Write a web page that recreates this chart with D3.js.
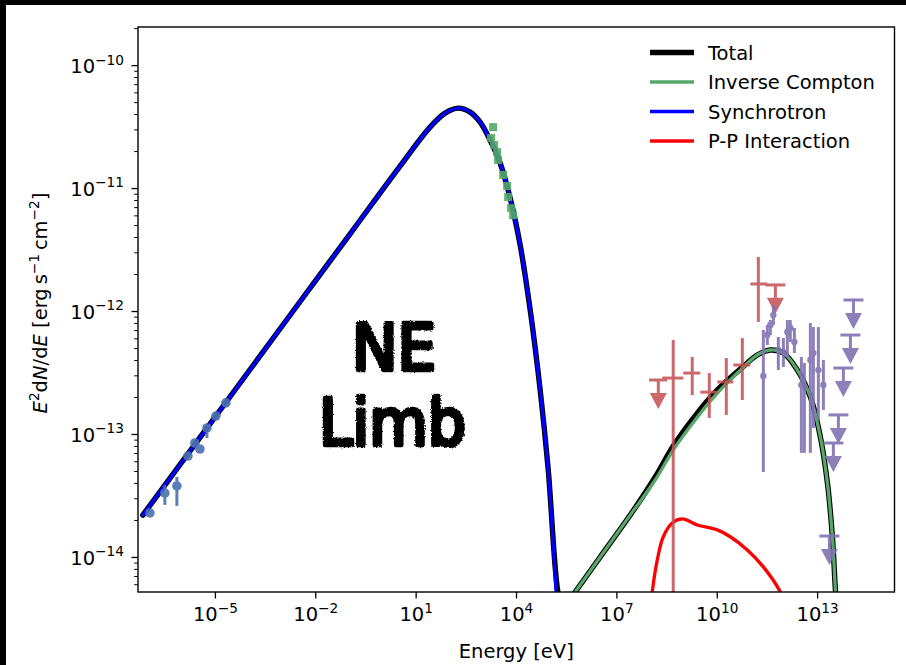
<!DOCTYPE html>
<html>
<head>
<meta charset="utf-8">
<script src="https://cdn.jsdelivr.net/npm/d3@7/dist/d3.min.js"></script>
<style>
  html, body { margin: 0; padding: 0; background: #000; }
  svg { display: block; }
</style>
</head>
<body>
<svg id="chart" width="906" height="665"></svg>
<script>
// Energies in eV, fluxes as E^2 dN/dE in erg s^-1 cm^-2

// Synchrotron model
const syncE = [7.0e-8, 3.56e-6, 1.11e-4, 3.49e-3, 0.109, 3.42, 27.0, 75.9, 186, 425, 845, 1683, 3350, 6670, 1.33e4, 2.65e4, 5.27e4, 9.14e4, 1.58e5, 2.24e5];
const syncF = [2.19e-14, 9.33e-14, 3.33e-13, 1.19e-12, 4.23e-12, 1.51e-11, 3.13e-11, 4.07e-11, 4.47e-11, 4.15e-11, 3.44e-11, 2.45e-11, 1.60e-11, 8.30e-12, 3.44e-12, 1.02e-12, 2.28e-13, 5.09e-14, 5.19e-15, 1.0e-15];

// Inverse Compton model
const icE = [3.16e5, 5.87e5, 3.29e6, 2.59e7, 1.45e8, 5.01e8, 2.62e9, 1.04e10, 5.06e10, 1.63e11, 4.0e11, 9.8e11, 2.57e12, 6.30e12, 1.25e13, 2.03e13, 2.86e13, 3.52e13, 4.04e13];
const icF = [4.07e-15, 5.19e-15, 1.0e-14, 2.19e-14, 4.23e-14, 7.41e-14, 1.37e-13, 2.15e-13, 3.31e-13, 4.39e-13, 4.82e-13, 4.56e-13, 3.31e-13, 2.0e-13, 9.46e-14, 4.0e-14, 1.46e-14, 5.4e-15, 3.1e-15];

// Proton-proton (pion decay) model
const ppE = [1.05e8, 1.18e8, 1.67e8, 2.52e8, 4.68e8, 9.33e8, 2.62e9, 1.04e10, 2.54e10, 8.2e10, 2.47e11, 7.96e11, 1.12e12];
const ppF = [3.7e-15, 5.19e-15, 9.46e-15, 1.46e-14, 1.89e-14, 2.04e-14, 1.82e-14, 1.66e-14, 1.46e-14, 1.14e-14, 8.3e-15, 5.19e-15, 4.1e-15];

// Total model
const totE = [7.0e-8, 3.56e-6, 1.11e-4, 3.49e-3, 0.109, 3.42, 27.0, 75.9, 186, 425, 845, 1683, 3350, 6670, 1.33e4, 2.65e4, 5.27e4, 9.14e4, 1.78e5, 2.5e5, 3.16e5, 5.87e5, 3.29e6, 2.59e7, 1.45e8, 5.01e8, 2.62e9, 1.04e10, 5.06e10, 1.63e11, 4.0e11, 9.8e11, 2.57e12, 6.30e12, 1.25e13, 2.03e13, 2.86e13, 3.52e13, 4.04e13];
const totF = [2.19e-14, 9.33e-14, 3.33e-13, 1.19e-12, 4.23e-12, 1.51e-11, 3.13e-11, 4.07e-11, 4.47e-11, 4.15e-11, 3.44e-11, 2.45e-11, 1.60e-11, 8.30e-12, 3.44e-12, 1.02e-12, 2.28e-13, 5.19e-14, 5.19e-15, 3.6e-15, 4.1e-15, 5.19e-15, 1.0e-14, 2.19e-14, 4.47e-14, 7.98e-14, 1.48e-13, 2.28e-13, 3.37e-13, 4.39e-13, 4.82e-13, 4.56e-13, 3.31e-13, 2.0e-13, 9.46e-14, 4.0e-14, 1.46e-14, 5.4e-15, 3.1e-15];

// Radio measurements
const radioE  = [1.14e-7, 3.19e-7, 7.29e-7, 1.56e-6, 2.52e-6, 3.56e-6, 5.77e-6, 1.07e-5, 2.13e-5];
const radioF  = [2.28e-14, 3.31e-14, 3.78e-14, 6.62e-14, 8.45e-14, 7.55e-14, 1.12e-13, 1.40e-13, 1.79e-13];
const radioLo = [2.15e-14, 2.65e-14, 2.60e-14, 6.2e-14, 7.9e-14, 7.0e-14, 9.27e-14, 1.32e-13, 1.70e-13];
const radioHi = [2.40e-14, 3.85e-14, 4.47e-14, 7.0e-14, 9.0e-14, 8.0e-14, 1.18e-13, 1.48e-13, 1.88e-13];

// X-ray measurements
const xrayE = [2.07e3, 1.80e3, 2.22e3, 2.73e3, 2.92e3, 4.12e3, 5.43e3, 5.82e3, 7.16e3, 8.20e3];
const xrayF = [3.13e-11, 2.55e-11, 2.24e-11, 1.96e-11, 1.69e-11, 1.28e-11, 1.04e-11, 8.45e-12, 6.87e-12, 6.03e-12];

// GeV measurements (bins with energy ranges)
const gevE   = [5.0e8, 1.85e9, 5.98e9, 1.93e10, 5.81e10, 1.75e11];
const gevF   = [2.85e-13, 3.13e-13, 2.19e-13, 2.65e-13, 3.64e-13, 1.66e-12];
const gevLo  = [1e-16, 2.07e-13, 1.35e-13, 1.43e-13, 1.89e-13, 8.15e-13];
const gevHi  = [5.81e-13, 4.23e-13, 3.13e-13, 4.15e-13, 6.03e-13, 2.75e-12];
const gevEmin = [2.35e8, 1.0e9, 3.22e9, 1.04e10, 3.13e10, 1.01e11];
const gevEmax = [1.0e9, 3.22e9, 1.04e10, 3.13e10, 1.01e11, 3.25e11];
// GeV upper limits
const gevUlE    = [1.79e8, 5.65e11];
const gevUlF    = [2.75e-13, 1.63e-12];
const gevUlEnd  = [2.15e-13, 1.28e-12];
const gevUlEmin = [9.5e7, 2.83e11];
const gevUlEmax = [3.3e8, 1.12e12];

// TeV measurements
const tevE  = [2.47e11, 3.25e11, 4.0e11, 4.92e11, 6.94e11, 9.8e11, 1.29e12, 1.58e12, 2.09e12, 3.38e12, 4.16e12, 6.28e12, 7.73e12, 1.09e13, 1.54e13];
const tevF  = [2.96e-13, 6.38e-13, 7.69e-13, 9.27e-13, 4.82e-13, 4.65e-13, 6.75e-13, 7.28e-13, 5.60e-13, 2.50e-13, 2.41e-13, 4.00e-13, 4.56e-13, 3.31e-13, 2.50e-13];
const tevLo = [4.91e-14, 5.30e-13, 6.38e-13, 7.69e-13, 3.31e-13, 3.51e-13, 4.23e-13, 5.60e-13, 4.56e-13, 7.02e-14, 7.02e-14, 7.02e-14, 1.12e-13, 1.30e-13, 1.57e-13];
const tevHi = [7.02e-13, 7.69e-13, 8.45e-13, 1.12e-12, 6.15e-13, 6.03e-13, 8.45e-13, 8.45e-13, 7.28e-13, 4.23e-13, 3.78e-13, 7.98e-13, 7.41e-13, 7.41e-13, 4.00e-13];
// TeV upper limits
const tevUlE   = [1.22e14, 9.9e13, 6.1e13, 4.33e13, 3.06e13, 2.33e13];
const tevUlF   = [1.23e-12, 6.38e-13, 3.44e-13, 1.43e-13, 8.45e-14, 1.48e-14];
const tevUlEnd = [9.64e-13, 5.0e-13, 2.70e-13, 1.12e-13, 6.62e-14, 1.16e-14];

// Axis ticks
const xTicks = [-5, -2, 1, 4, 7, 10, 13];
const yTicks = [-10, -11, -12, -13, -14];

// Legend entries
const legendLabels = ["Total", "Inverse Compton", "Synchrotron", "P-P Interaction"];

// ---------------------------------------------------------------------------
const svg = d3.select("#chart");
const FONT = "DejaVu Sans, sans-serif";
const FS = 19.5;
const FS_SUP = 13.7;

const plot = { left: 138, right: 894.5, top: 27, bottom: 592 };

// figure background
svg.append("rect").attr("x", 6).attr("y", 5).attr("width", 900).attr("height", 660).attr("fill", "#fff");

const x = d3.scaleLog().domain([Math.pow(10, -7.299), Math.pow(10, 15.313)]).range([plot.left, plot.right]);
const y = d3.scaleLog().domain([Math.pow(10, -14.285), Math.pow(10, -9.69)]).range([plot.bottom, plot.top]);

svg.append("defs").append("clipPath").attr("id", "plotClip")
  .append("rect").attr("x", plot.left).attr("y", plot.top)
  .attr("width", plot.right - plot.left).attr("height", plot.bottom - plot.top);

const rough = svg.select("defs").append("filter").attr("id", "rough")
  .attr("x", "-10%").attr("y", "-10%").attr("width", "120%").attr("height", "120%");
rough.append("feTurbulence").attr("type", "fractalNoise").attr("baseFrequency", 0.7).attr("numOctaves", 2).attr("seed", 3).attr("result", "noise");
rough.append("feDisplacementMap").attr("in", "SourceGraphic").attr("in2", "noise").attr("scale", 3)
  .attr("xChannelSelector", "R").attr("yChannelSelector", "G");

const g = svg.append("g").attr("clip-path", "url(#plotClip)");

const line = d3.line().x(d => x(d[0])).y(d => y(d[1])).curve(d3.curveCatmullRom.alpha(0.5));
const zip = (a, b) => a.map((v, i) => [v, b[i]]);

const curves = [
  { E: totE, F: totF, color: "#000000", w: 5.4 },
  { E: icE, F: icF, color: "#55a868", w: 3.3 },
  { E: syncE, F: syncF, color: "#0000ff", w: 3.3 },
  { E: ppE, F: ppF, color: "#ff0000", w: 3.3 }
];
curves.forEach(c => {
  g.append("path").attr("d", line(zip(c.E, c.F)))
    .attr("fill", "none").attr("stroke", c.color).attr("stroke-width", c.w)
    .attr("stroke-linejoin", "round").attr("stroke-linecap", "round");
});

// error bar helpers
function vbar(sel, e, lo, hi, color, w) {
  sel.append("line").attr("x1", x(e)).attr("x2", x(e)).attr("y1", y(lo)).attr("y2", y(hi))
    .attr("stroke", color).attr("stroke-width", w);
}
function hbar(sel, e0, e1, f, color, w) {
  sel.append("line").attr("x1", x(e0)).attr("x2", x(e1)).attr("y1", y(f)).attr("y2", y(f))
    .attr("stroke", color).attr("stroke-width", w);
}
function upperLimit(sel, e, f, end, color, w, capL, capR) {
  const cx = x(e), y0 = y(f), y1 = y(end);
  sel.append("line").attr("x1", capL).attr("x2", capR).attr("y1", y0).attr("y2", y0)
    .attr("stroke", color).attr("stroke-width", w);
  sel.append("line").attr("x1", cx).attr("x2", cx).attr("y1", y0).attr("y2", y1)
    .attr("stroke", color).attr("stroke-width", w);
  sel.append("path").attr("d", `M${cx - 8.5},${y1} L${cx + 8.5},${y1} L${cx},${y1 + 16} Z`)
    .attr("fill", color);
}

// radio points
const radioCol = "#4c72b0";
const gr = g.append("g").attr("opacity", 0.9);
radioE.forEach((e, i) => {
  vbar(gr, e, radioLo[i], radioHi[i], radioCol, 3);
  gr.append("circle").attr("cx", x(e)).attr("cy", y(radioF[i])).attr("r", 4.8).attr("fill", radioCol);
});

// x-ray points
const gx = g.append("g").attr("opacity", 0.9);
xrayE.forEach((e, i) => {
  gx.append("rect").attr("x", x(e) - 4).attr("y", y(xrayF[i]) - 4).attr("width", 8).attr("height", 8)
    .attr("fill", "#55a868");
});

// GeV points
const gevCol = "#c44e52";
const gg = g.append("g").attr("opacity", 0.85);
gevE.forEach((e, i) => {
  vbar(gg, e, gevLo[i], gevHi[i], gevCol, 3);
  hbar(gg, gevEmin[i], gevEmax[i], gevF[i], gevCol, 3);
});
gevUlE.forEach((e, i) => {
  upperLimit(gg, e, gevUlF[i], gevUlEnd[i], gevCol, 3, x(gevUlEmin[i]), x(gevUlEmax[i]));
});

// TeV points
const tevCol = "#8172b2";
const gt = g.append("g").attr("opacity", 0.9);
tevE.forEach((e, i) => {
  vbar(gt, e, tevLo[i], tevHi[i], tevCol, 3);
  gt.append("circle").attr("cx", x(e)).attr("cy", y(tevF[i])).attr("r", 3.2).attr("fill", tevCol);
});
tevUlE.forEach((e, i) => {
  upperLimit(gt, e, tevUlF[i], tevUlEnd[i], tevCol, 3, x(e) - 10, x(e) + 10);
});

// axes
const supLabel = (sel, exp) => {
  sel.text(null);
  sel.append("tspan").text("10");
  sel.append("tspan").attr("dy", -8.5).attr("font-size", FS_SUP).text(exp < 0 ? "\u2212" + (-exp) : String(exp));
};

const xAxis = d3.axisBottom(x).tickValues(xTicks.map(p => Math.pow(10, p))).tickSize(6.5).tickPadding(6).tickFormat("");
const gxAxis = svg.append("g").attr("transform", `translate(0,${plot.bottom})`).call(xAxis);
gxAxis.select(".domain").remove();
gxAxis.selectAll(".tick line").attr("stroke", "#000").attr("stroke-width", 1.3);
gxAxis.selectAll(".tick text").each(function(d, i) {
  const t = d3.select(this).attr("y", 29).attr("dy", null)
    .attr("font-family", FONT).attr("font-size", FS).attr("fill", "#000");
  supLabel(t, xTicks[i]);
});

const minorY = [];
for (let p = -15; p <= -10; p++) for (let m = 2; m <= 9; m++) {
  const v = m * Math.pow(10, p);
  if (v > y.domain()[0] && v < y.domain()[1]) minorY.push(v);
}
const yMinor = d3.axisLeft(y).tickValues(minorY).tickSize(3.8).tickFormat("");
const gyMinor = svg.append("g").attr("transform", `translate(${plot.left},0)`).call(yMinor);
gyMinor.select(".domain").remove();
gyMinor.selectAll(".tick line").attr("stroke", "#000").attr("stroke-width", 1.0);

const yAxis = d3.axisLeft(y).tickValues(yTicks.map(p => Math.pow(10, p))).tickSize(6.5).tickPadding(6).tickFormat("");
const gyAxis = svg.append("g").attr("transform", `translate(${plot.left},0)`).call(yAxis);
gyAxis.select(".domain").remove();
gyAxis.selectAll(".tick line").attr("stroke", "#000").attr("stroke-width", 1.3);
gyAxis.selectAll(".tick text").each(function(d, i) {
  const t = d3.select(this).attr("x", -14).attr("dy", "0.38em")
    .attr("font-family", FONT).attr("font-size", FS).attr("fill", "#000");
  supLabel(t, yTicks[i]);
});

// frame
svg.append("rect").attr("x", plot.left).attr("y", plot.top)
  .attr("width", plot.right - plot.left).attr("height", plot.bottom - plot.top)
  .attr("fill", "none").attr("stroke", "#000").attr("stroke-width", 1.4);

// axis titles
svg.append("text").attr("x", (plot.left + plot.right) / 2).attr("y", 658)
  .attr("text-anchor", "middle").attr("font-family", FONT).attr("font-size", FS).text("Energy [eV]");

const yl = svg.append("text").attr("transform", `translate(47,303) rotate(-90)`)
  .attr("text-anchor", "middle").attr("font-family", FONT).attr("font-size", FS);
yl.append("tspan").attr("font-style", "italic").text("E");
yl.append("tspan").attr("dy", -8.5).attr("font-size", FS_SUP).text("2");
yl.append("tspan").attr("dy", 8.5).text("d");
yl.append("tspan").attr("font-style", "italic").text("N");
yl.append("tspan").text("/d");
yl.append("tspan").attr("font-style", "italic").text("E");
yl.append("tspan").text(" [erg\u2009s");
yl.append("tspan").attr("dy", -8.5).attr("font-size", FS_SUP).text("\u22121");
yl.append("tspan").attr("dy", 8.5).text("\u2009cm");
yl.append("tspan").attr("dy", -8.5).attr("font-size", FS_SUP).text("\u22122");
yl.append("tspan").attr("dy", 8.5).text("]");

// legend
const legColors = ["#000000", "#55a868", "#0000ff", "#ff0000"];
const legWidths = [5.4, 3.3, 3.3, 3.3];
legendLabels.forEach((lab, i) => {
  const yy = 52.5 + i * 29.5;
  svg.append("line").attr("x1", 650).attr("x2", 694).attr("y1", yy).attr("y2", yy)
    .attr("stroke", legColors[i]).attr("stroke-width", legWidths[i]);
  svg.append("text").attr("x", 708).attr("y", yy).attr("dy", "0.36em")
    .attr("font-family", FONT).attr("font-size", FS).attr("fill", "#000").text(lab);
});

// region annotation, marker-pen style
const note = svg.append("g").attr("filter", "url(#rough)")
  .attr("font-family", "DejaVu Sans, sans-serif").attr("fill", "#000")
  .attr("stroke", "#000").attr("stroke-width", 4.5).attr("stroke-linejoin", "round");
note.append("text").attr("x", 352).attr("y", 370).attr("font-size", 64)
  .attr("textLength", 84).attr("lengthAdjust", "spacingAndGlyphs").text("NE");
note.append("text").attr("x", 319).attr("y", 445).attr("font-size", 64)
  .attr("textLength", 147).attr("lengthAdjust", "spacingAndGlyphs").text("Limb");
</script>
</body>
</html>
